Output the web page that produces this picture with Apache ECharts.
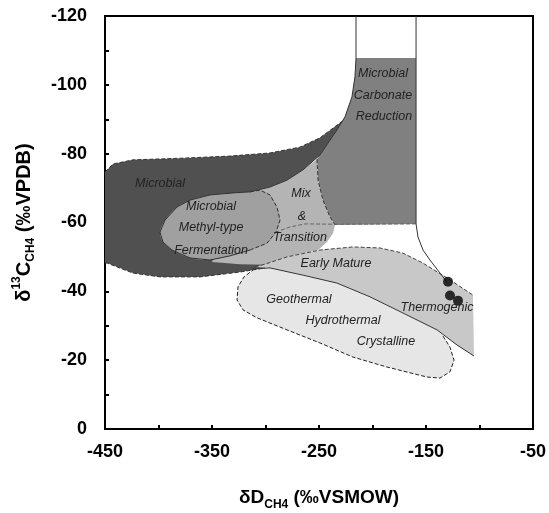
<!DOCTYPE html>
<html><head><meta charset="utf-8">
<script src="https://cdn.jsdelivr.net/npm/echarts@6/dist/echarts.min.js"></script>
<style>html,body{margin:0;padding:0;background:#fff}#c{width:549px;height:513px}</style>
</head><body><div id="c"></div>
<script>
// ---- tick labels ----
const xTickLabels = [-450, -350, -250, -150, -50];
const yTickLabels = [0, -20, -40, -60, -80, -100, -120];

// ---- field polygons (δD, δ13C) ----
const darkMicrobial = [[-450,-74.7],[-442.5,-77.0],[-423.8,-78.2],[-377.1,-78.7],[-333.2,-79.3],[-295.8,-80.2],[-267.8,-81.9],[-249.1,-84.6],[-227.9,-89.5],
  [-233.2,-86.9],[-249.1,-79.6],[-264.9,-75.3],[-279.9,-72.3],[-295.8,-70.3],[-314.5,-68.9],[-330,-60],
  [-300.5,-46.8],[-323.8,-45.6],[-361.2,-44.2],[-398.6,-44.2],[-423.8,-45.3],[-448,-48.2],[-450,-48.2]];
const carbonateReduction = [[-215.4,-107.8],[-159.3,-107.8],[-159.3,-59.6],[-235.0,-59.3],[-239.7,-61.6],[-246.3,-66.5],[-250.9,-72.3],[-251.9,-78.4],
  [-249.1,-79.6],[-233.2,-86.9],[-225.7,-90.7],[-219.2,-96.5],[-216.4,-102.3]];
const mixTransition = [[-314.5,-68.9],[-295.8,-70.3],[-279.9,-72.3],[-264.9,-75.3],[-251.9,-78.4],[-250.9,-72.3],[-246.3,-66.5],[-239.7,-61.6],[-235.0,-59.3],
  [-236.9,-56.9],[-242.5,-54.3],[-250.9,-52.0],[-279.9,-50.0],[-300.5,-47.7],[-323.8,-47.9],[-350.0,-48.5],[-333.2,-60.7]];
const methylFermentation = [[-314.5,-68.9],[-330.4,-68.6],[-351.9,-68.0],[-370.6,-66.5],[-382.7,-64.5],[-393.9,-60.7],[-398.6,-57.2],[-395.8,-54.3],
  [-387.4,-52.0],[-370.6,-49.7],[-351.9,-49.1],[-333.2,-50.3],[-314.5,-52.0],[-298.6,-54.0],[-290.2,-57.2],[-286.4,-60.7],[-289.3,-64.5],[-295.8,-68.0],[-305.1,-69.4]];
const thermogenic = [[-309.8,-47.1],[-300.5,-47.9],[-279.9,-50.0],[-249.1,-52.0],[-218.2,-52.9],[-193.0,-52.6],[-171.5,-51.1],[-152.8,-48.2],[-130.4,-43.9],[-106.1,-38.9],
  [-105.1,-21.2],[-121.0,-24.4],[-139.7,-28.8],[-171.5,-33.7],[-202.3,-38.4],[-233.2,-42.4],[-264.9,-44.7],[-295.8,-46.8]];
const geothermal = [[-311.7,-46.2],[-295.8,-46.8],[-264.9,-44.7],[-233.2,-42.4],[-202.3,-38.4],[-171.5,-33.7],[-139.7,-28.8],[-134.1,-27.0],[-127.6,-23.8],
  [-123.8,-20.0],[-127.6,-16.6],[-136.9,-14.8],[-149.1,-15.1],[-186.4,-18.0],[-218.2,-20.9],[-249.1,-25.0],[-279.9,-28.8],[-307.9,-32.3],[-321.0,-34.6],
  [-326.6,-37.5],[-325.7,-41.3],[-320.1,-44.2]];

// ---- boundary lines ----
const funnelLeft = [[-215.4,-120],[-215.4,-107.8],[-216.4,-102.3],[-219.2,-96.5],[-225.7,-90.7],[-233.2,-86.9],[-249.1,-79.6],[-264.9,-75.3],[-279.9,-72.3],
  [-295.8,-70.3],[-314.5,-68.9],[-330.4,-68.6],[-351.9,-68.0],[-370.6,-66.5],[-382.7,-64.5],[-393.9,-60.7],[-398.6,-57.2],[-395.8,-54.3],[-387.4,-52.0],
  [-370.6,-49.7],[-351.9,-49.1],[-333.2,-50.3],[-314.5,-52.0]];
const funnelRight = [[-159.3,-120],[-159.3,-59.6],[-157.5,-55.8],[-152.8,-52.0],[-146.3,-49.1],[-136.9,-45.3],[-130.4,-42.7]];
const darkTopEdge = [[-450,-74.7],[-442.5,-77.0],[-423.8,-78.2],[-377.1,-78.7],[-333.2,-79.3],[-295.8,-80.2],[-267.8,-81.9],[-249.1,-84.6],[-227.9,-89.5]];
const darkBottomEdge = [[-450,-48.2],[-448,-48.2],[-423.8,-45.3],[-398.6,-44.2],[-361.2,-44.2],[-323.8,-45.6],[-300.5,-46.8]];
const carbonateEdge = [[-251.9,-78.4],[-250.9,-72.3],[-246.3,-66.5],[-239.7,-61.6],[-235.0,-59.3]];
const transitionEdge = [[-159.3,-59.6],[-235.0,-59.5],[-263.1,-59.6],[-277.1,-58.7],[-290.2,-57.2]];
const methylEdge = [[-314.5,-68.9],[-305.1,-69.4],[-295.8,-68.0],[-289.3,-64.5],[-286.4,-60.7],[-290.2,-57.2],[-298.6,-54.0],[-314.5,-52.0]];
const thermoTopEdge = [[-309.8,-47.1],[-300.5,-47.9],[-279.9,-50.0],[-249.1,-52.0],[-218.2,-52.9],[-193.0,-52.6],[-171.5,-51.1],[-152.8,-48.2],[-130.4,-43.9],[-106.1,-38.9]];
const thermoBottomEdge = [[-311.7,-46.5],[-295.8,-46.8],[-264.9,-44.7],[-233.2,-42.4],[-202.3,-38.4],[-171.5,-33.7],[-139.7,-28.8],[-121.0,-24.4],[-105.1,-21.2]];
const geothermalEdge = [[-134.1,-27.0],[-127.6,-23.8],[-123.8,-20.0],[-127.6,-16.6],[-136.9,-14.8],[-149.1,-15.1],[-186.4,-18.0],[-218.2,-20.9],[-249.1,-25.0],
  [-279.9,-28.8],[-307.9,-32.3],[-321.0,-34.6],[-326.6,-37.5],[-325.7,-41.3],[-320.1,-44.2],[-311.7,-46.2]];

// ---- samples ----
const sampleD = [-129.4, -127.6, -120.1];
const sampleC = [-42.8, -38.8, -37.3];

// ---- field labels ----
const labelTexts = ['Microbial','Microbial','Methyl-type','Fermentation','Mix','&','Transition','Microbial','Carbonate','Reduction',
  'Early Mature','Geothermal','Hydrothermal','Crystalline','Thermogenic'];
const labelX = [-398.6,-350.9,-350.9,-350.9,-266.8,-265.9,-267.8,-190.2,-190.2,-189.3,-234.1,-268.7,-227.6,-187.4,-139.7];
const labelY = [-71.2,-64.5,-58.4,-52.0,-68.3,-61.6,-55.5,-103.4,-97.0,-90.7,-48.2,-37.5,-31.4,-25.3,-35.4];

function polySeries(pts, fill, z, smooth) {
  return {
    type: 'custom', silent: true, z: z, clip: true,
    data: [[pts[0][0], pts[0][1]]],
    renderItem: function (params, api) {
      return { type: 'polygon', shape: { points: pts.map(p => api.coord(p)), smooth: smooth || 0 },
        style: { fill: fill, stroke: 'none' } };
    }
  };
}
function lineSeries(pts, color, type, z, width) {
  return { type: 'line', silent: true, z: z, data: pts, symbol: 'none', smooth: false,
    lineStyle: { color: color, width: width || 1, type: type } };
}

const chart = echarts.init(document.getElementById('c'), null, { renderer: 'canvas' });
const tickFont = { fontFamily: '"Liberation Sans", Arial, sans-serif', fontWeight: 'bold', fontSize: 18, color: '#000' };
chart.setOption({
  animation: false,
  backgroundColor: '#fff',
  grid: { left: 105, right: 16, top: 16, bottom: 84, show: true, borderColor: '#000', borderWidth: 2, backgroundColor: 'transparent',
    containLabel: false, outerBoundsMode: 'none' },
  xAxis: {
    type: 'value', min: -450, max: -50, interval: 50,
    splitLine: { show: false },
    axisLine: { show: true, lineStyle: { color: '#000', width: 2 } },
    axisTick: { show: true, inside: true, length: 4, lineStyle: { color: '#000', width: 2 } },
    axisLabel: Object.assign({ margin: 14, formatter: v => xTickLabels.includes(v) ? String(v) : '' }, tickFont),
    name: '{b|δD}{sub|CH4}{b| (‰VSMOW)}', nameLocation: 'middle', nameGap: 56,
    nameTextStyle: { rich: {
      b: { fontFamily: '"Liberation Sans", Arial, sans-serif', fontWeight: 'bold', fontSize: 19, color: '#000', lineHeight: 26, verticalAlign: 'middle' },
      sub: { fontFamily: '"Liberation Sans", Arial, sans-serif', fontWeight: 'bold', fontSize: 12, color: '#000', lineHeight: 14, verticalAlign: 'bottom' }
    } }
  },
  yAxis: {
    type: 'value', min: -120, max: 0, interval: 10, inverse: true,
    splitLine: { show: false },
    axisLine: { show: true, lineStyle: { color: '#000', width: 2 } },
    axisTick: { show: true, inside: true, length: 4, lineStyle: { color: '#000', width: 2 } },
    axisLabel: Object.assign({ margin: 18, formatter: v => yTickLabels.includes(v) ? String(v) : '' }, tickFont),
    name: '{b|δ}{sup|13}{b|C}{sub|CH4}{b| (‰VPDB)}', nameLocation: 'middle', nameGap: 68, nameRotate: 90,
    nameTextStyle: { rich: {
      b: { fontFamily: '"Liberation Sans", Arial, sans-serif', fontWeight: 'bold', fontSize: 20, color: '#000', lineHeight: 26, verticalAlign: 'middle' },
      sup: { fontFamily: '"Liberation Sans", Arial, sans-serif', fontWeight: 'bold', fontSize: 12, color: '#000', lineHeight: 14, verticalAlign: 'top' },
      sub: { fontFamily: '"Liberation Sans", Arial, sans-serif', fontWeight: 'bold', fontSize: 12, color: '#000', lineHeight: 14, verticalAlign: 'bottom' }
    } }
  },
  series: [
    polySeries(darkMicrobial, '#505050', 1),
    polySeries(carbonateReduction, '#808080', 2),
    polySeries(mixTransition, '#b4b4b4', 3),
    polySeries(methylFermentation, '#a0a0a0', 4, 0.3),
    polySeries(thermogenic, '#c8c8c8', 5),
    polySeries(geothermal, '#e6e6e6', 6),
    lineSeries(darkTopEdge, '#333', 'dashed', 10),
    lineSeries(darkBottomEdge, '#333', 'dashed', 10),
    lineSeries(carbonateEdge, '#333', 'dashed', 10),
    lineSeries(transitionEdge, '#666', 'dashed', 10),
    lineSeries(methylEdge, '#333', 'dashed', 10),
    lineSeries(thermoTopEdge, '#444', 'dashed', 10),
    lineSeries(geothermalEdge, '#222', 'dashed', 10),
    lineSeries(funnelLeft, '#333', 'solid', 11),
    lineSeries(funnelRight, '#333', 'solid', 11),
    lineSeries(thermoBottomEdge, '#333', 'solid', 11),
    {
      type: 'scatter', z: 20, silent: true, symbol: 'circle', symbolSize: 10,
      itemStyle: { color: '#000' },
      data: sampleD.map((d, i) => [d, sampleC[i]])
    },
    {
      type: 'custom', z: 30, silent: true,
      data: labelX.map((x, i) => [x, labelY[i], i]),
      renderItem: function (params, api) {
        const p = api.coord([api.value(0), api.value(1)]);
        return { type: 'text', x: p[0], y: p[1],
          style: { text: labelTexts[api.value(2)], fill: '#222', align: 'center', verticalAlign: 'middle',
            font: 'italic 12.5px "Liberation Sans", Arial, sans-serif' } };
      }
    }
  ]
});
</script></body></html>
